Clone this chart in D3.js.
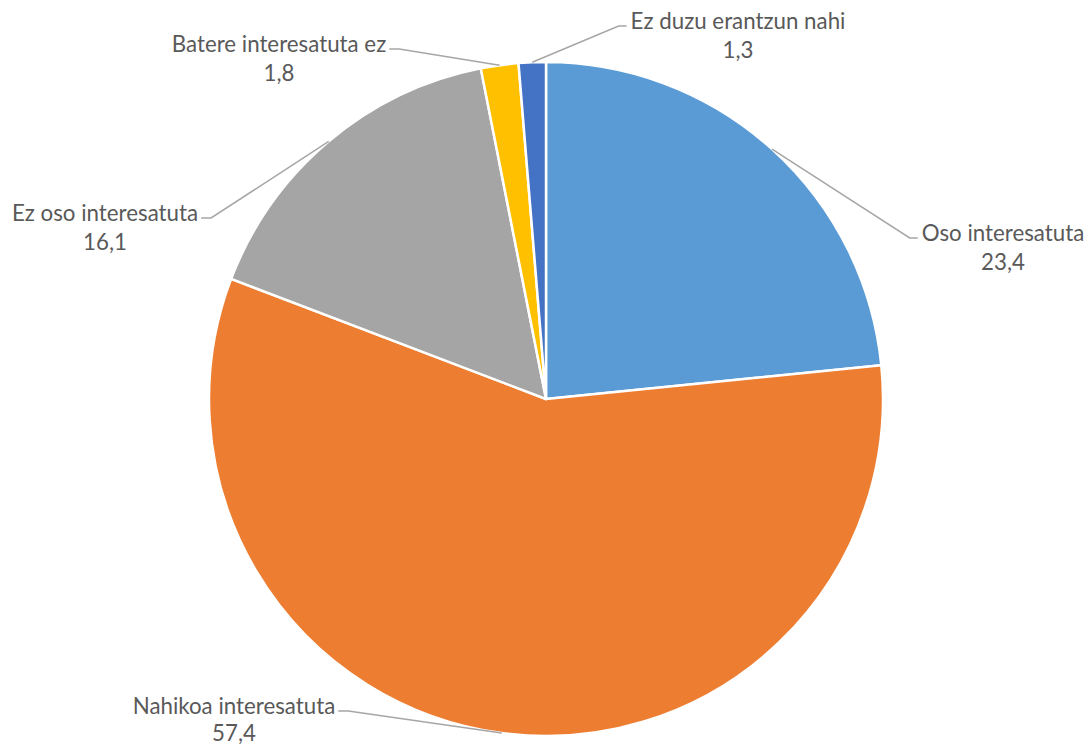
<!DOCTYPE html>
<html><head><meta charset="utf-8">
<script src="https://cdn.jsdelivr.net/npm/d3@7"></script>
<style>html,body{margin:0;padding:0;background:#fff;}</style>
</head><body>
<svg id="chart" width="1089" height="748"></svg>
<script>
const categories = ["Oso interesatuta", "Nahikoa interesatuta", "Ez oso interesatuta", "Batere interesatuta ez", "Ez duzu erantzun nahi"];
const values = [23.4, 57.4, 16.1, 1.8, 1.3];
const valueLabels = ["23,4", "57,4", "16,1", "1,8", "1,3"];
const colors = ["#5B9BD5", "#ED7D31", "#A5A5A5", "#FFC000", "#4472C4"];

// layout: label centre x and first-line baseline y, side of leader
const labelLayout = [
  {x: 1003, y: 241, side: "left", gap: 29},
  {x: 234, y: 714, side: "right", gap: 27},
  {x: 105, y: 221, side: "right", gap: 29},
  {x: 279, y: 52, side: "right", gap: 29},
  {x: 738, y: 29, side: "left", gap: 29}
];

const cx = 546, cy = 399, R = 337;
const fontSize = 22.3;
const svg = d3.select("#chart");
const g = svg.append("g").attr("transform", `translate(${cx},${cy})`);

const pie = d3.pie().sort(null).value(d => d.v);
const data = categories.map((c, i) => ({c, v: values[i], lab: valueLabels[i], col: colors[i], lay: labelLayout[i]}));
const arcs = pie(data);
const arc = d3.arc().innerRadius(0).outerRadius(R);

g.selectAll("path.slice").data(arcs).enter().append("path")
  .attr("class", "slice")
  .attr("d", arc)
  .attr("fill", d => d.data.col)
  .attr("stroke", "#fff")
  .attr("stroke-width", 2.5)
  .attr("stroke-linejoin", "round");

const labels = svg.append("g");
arcs.forEach(a => {
  const L = a.data.lay;
  const t = labels.append("text")
    .attr("x", L.x).attr("y", L.y)
    .attr("text-anchor", "middle")
    .attr("font-family", "Lato, 'Open Sans', sans-serif")
    .attr("font-size", fontSize)
    .attr("fill", "#595959");
  t.append("tspan").attr("x", L.x).attr("dy", 0).text(a.data.c);
  t.append("tspan").attr("x", L.x).attr("dy", L.gap).text(a.data.lab);
  const w = t.select("tspan").node().getComputedTextLength();
  const mid = (a.startAngle + a.endAngle) / 2;
  const px = cx + R * Math.sin(mid), py = cy - R * Math.cos(mid);
  const ly = L.y - 3;
  let pts;
  if (L.side === "left") {
    const tx = L.x - w / 2 - 4;
    pts = [[px, py], [tx - 8, ly], [tx, ly]];
  } else {
    const tx = L.x + w / 2 + 3;
    pts = [[tx, ly], [tx + 10, ly], [px, py]];
  }
  labels.append("path")
    .attr("d", d3.line()(pts))
    .attr("fill", "none")
    .attr("stroke", "#A6A6A6")
    .attr("stroke-width", 1.5);
});
</script>
</body></html>
